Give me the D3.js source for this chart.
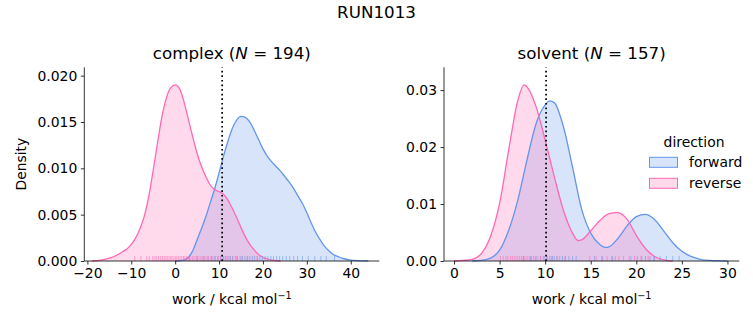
<!DOCTYPE html>
<html><head><meta charset="utf-8">
<script src="https://cdn.jsdelivr.net/npm/d3@7"></script>
<style>body{margin:0;background:#fff}text{font-family:"DejaVu Sans",sans-serif;fill:#000}</style>
</head><body><svg id="c" width="753" height="325"></svg>
<script>
// ---- data ----
const suptitle = "RUN1013";
const panels = ["complex", "solvent"];
const panelN = [194, 157];
const directions = ["forward", "reverse"];
const colors = ["#6495ED", "#FF69B4"];
const thresholds = [10.7, 10.1];

const complexXTicks = [-20, -10, 0, 10, 20, 30, 40];
const complexYTicks = [0, 0.005, 0.010, 0.015, 0.020];
const solventXTicks = [0, 5, 10, 15, 20, 25, 30];
const solventYTicks = [0, 0.01, 0.02, 0.03];

// KDE curves [work, density]
const complexForward = [[0,0],[2,0.0001],[3,0.0004],[4,0.0011],[5,0.0023],[6,0.0035],[7,0.0048],[8,0.0063],[9,0.0078],[10,0.0095],[11,0.0113],[12,0.0129],[13,0.0143],[14,0.0152],[15,0.0156],[16,0.0155],[17,0.0150],[18,0.0141],[19,0.0131],[20,0.0121],[21,0.0113],[22,0.0107],[23,0.0102],[24,0.0097],[25,0.0091],[26,0.0085],[27,0.0078],[28,0.0070],[29,0.0062],[30,0.0052],[31,0.0041],[32,0.0031],[33,0.0023],[34,0.0016],[35,0.0011],[36,0.0007],[37,0.0005],[38,0.0003],[40,0.0001],[44,0]];
const complexReverse = [[-19,0],[-17,0.0001],[-15,0.0003],[-13,0.0007],[-12,0.0010],[-11,0.0013],[-10,0.0018],[-9,0.0025],[-8,0.0035],[-7,0.0049],[-6,0.0070],[-5,0.0098],[-4,0.0128],[-3,0.0156],[-2,0.0176],[-1,0.0187],[0,0.0190],[1,0.0186],[2,0.0172],[3,0.0153],[4,0.0134],[5,0.0116],[6,0.0102],[7,0.0091],[8,0.0082],[9,0.0077],[10,0.0075],[11,0.0072],[12,0.0066],[13,0.0057],[14,0.0047],[15,0.0036],[16,0.0026],[17,0.0018],[18,0.0012],[19,0.0007],[20,0.0004],[22,0.0001],[24,0]];
const solventForward = [[2,0],[3,0.0001],[4,0.0005],[5,0.0019],[6,0.0054],[7,0.0107],[8,0.0177],[9,0.0241],[10,0.0274],[10.5,0.0281],[11,0.0278],[12,0.0236],[13,0.0165],[14,0.0091],[15,0.0049],[16,0.0029],[16.6,0.0024],[17,0.0025],[18,0.0040],[19,0.0062],[20,0.0078],[21,0.0082],[22,0.0073],[23,0.0053],[24,0.0032],[25,0.0017],[26,0.0008],[27,0.0003],[28,0.0001],[30,0]];
const solventReverse = [[0,0],[1,0.0001],[2,0.0003],[3,0.0013],[4,0.0043],[5,0.0101],[6,0.0195],[7,0.0282],[7.7,0.0309],[8,0.0306],[9,0.0271],[10,0.0212],[11,0.0148],[12,0.0089],[13,0.0049],[13.6,0.0036],[14,0.0037],[15,0.0053],[16,0.0071],[17,0.0083],[18,0.0085],[19,0.0073],[20,0.0045],[21,0.0022],[22,0.0008],[23,0.0002],[24,0]];

// rug (individual work values)
const complexForwardRug = [3.2,5.0,6.4,7.5,8.3,9.0,9.7,10.3,10.9,11.4,12.0,12.6,13.1,13.7,14.2,14.8,15.3,15.9,16.4,17.0,17.6,18.1,18.7,19.3,19.9,20.5,21.1,21.8,22.4,23.1,23.8,24.5,25.3,26.1,27.0,27.9,29.0,30.3,31.8,33.2,34.4,36.3];
const complexReverseRug = [-9.2,-7.8,-6.5,-5.9,-5.1,-4.6,-4.2,-3.8,-3.3,-2.9,-2.5,-2.1,-1.8,-1.4,-1.0,-0.7,-0.3,0.1,0.4,0.8,1.1,1.5,1.9,2.2,2.6,3.0,3.4,3.9,4.3,4.8,5.2,5.7,6.1,6.6,7.0,7.5,8.1,8.6,9.2,9.8,10.4,11.0,11.6,12.3,13.1,14.0,15.2,16.5,18.7];
const solventForwardRug = [7.6,8.4,9.0,9.5,9.9,10.2,10.5,10.8,11.0,11.3,11.6,11.9,12.2,12.6,13.0,13.4,15.4,16.3,17.4,19.4,20.1,20.6,21.0,21.5,22.0,22.6,23.3,24.0,24.7];
const solventReverseRug = [5.1,5.4,5.7,5.9,6.2,6.4,6.6,6.8,7.0,7.2,7.4,7.6,7.7,7.9,8.1,8.3,8.5,8.7,8.9,9.2,9.5,9.8,10.2,10.7,11.3,12.2,14.9,15.6,16.2,16.8,17.3,17.7,18.1,18.6,19.2,19.8,20.5,21.3,21.9];

// ---- drawing ----
const svg = d3.select("#c");
const fs = 13.9, tfs = 16.7;

svg.append("text").attr("x", 376.5).attr("y", 17.5).attr("text-anchor", "middle")
  .style("font-size", tfs + "px").text(suptitle);

const cfg = [
  {x0:84.3, x1:379.3, xd:[-20.7,46.5], yd:[0,0.0209], xt:complexXTicks, yt:complexYTicks, yf:d3.format(".3f"),
   curves:[complexForward, complexReverse], rugs:[complexForwardRug, complexReverseRug]},
  {x0:444, x1:739.3, xd:[-1.1,31.3], yd:[0,0.034], xt:solventXTicks, yt:solventYTicks, yf:d3.format(".2f"),
   curves:[solventForward, solventReverse], rugs:[solventForwardRug, solventReverseRug]}
];
const yTop = 67.3, yBot = 261;
const fmtX = d => d < 0 ? "\u2212" + Math.abs(d) : String(d);

cfg.forEach((c, i) => {
  const x = d3.scaleLinear().domain(c.xd).range([c.x0, c.x1]);
  const y = d3.scaleLinear().domain(c.yd).range([yBot, yTop]);
  const g = svg.append("g");

  // fills
  c.curves.forEach((pts, k) => {
    const area = d3.area().x(d => x(d[0])).y0(y(0)).y1(d => y(d[1])).curve(d3.curveMonotoneX);
    g.append("path").attr("d", area(pts)).attr("fill", colors[k]).attr("fill-opacity", 0.25).attr("stroke", "none");
  });
  c.curves.forEach((pts, k) => {
    const line = d3.line().x(d => x(d[0])).y(d => y(d[1])).curve(d3.curveMonotoneX);
    g.append("path").attr("d", line(pts)).attr("fill", "none").attr("stroke", colors[k]).attr("stroke-width", 1.3);
  });
  // rugs
  c.rugs.forEach((vals, k) => {
    g.selectAll(null).data(vals).enter().append("line")
      .attr("x1", d => x(d)).attr("x2", d => x(d))
      .attr("y1", yBot).attr("y2", yBot - 5)
      .attr("stroke", colors[k]).attr("stroke-opacity", 0.55).attr("stroke-width", 1);
  });
  // threshold
  g.append("line").attr("x1", x(thresholds[i])).attr("x2", x(thresholds[i]))
    .attr("y1", yBot).attr("y2", yTop).attr("stroke", "#000").attr("stroke-width", 1.7)
    .attr("stroke-dasharray", "1.7,2.9");

  // axes
  const xa = g.append("g").attr("transform", `translate(0,${yBot})`)
    .call(d3.axisBottom(x).tickValues(c.xt).tickFormat(fmtX).tickSize(3.5).tickPadding(3.5));
  xa.select(".domain").attr("d", `M${c.x0},0H${c.x1}`);
  const ya = g.append("g").attr("transform", `translate(${c.x0},0)`)
    .call(d3.axisLeft(y).tickValues(c.yt).tickFormat(c.yf).tickSize(3.5).tickPadding(3.5));
  ya.select(".domain").attr("d", `M0,${yBot}V${yTop}`);
  [xa, ya].forEach(a => {
    a.selectAll("path,line").attr("stroke", "#000").attr("stroke-width", 0.8);
    a.selectAll("text").style("font-size", fs + "px").attr("font-family", "DejaVu Sans").attr("fill", "#000");
  });
  xa.selectAll("text").attr("dy", "0.72em");

  // titles
  const cx = (c.x0 + c.x1) / 2;
  const t = svg.append("text").attr("x", cx).attr("y", 59).attr("text-anchor", "middle").style("font-size", tfs + "px");
  t.append("tspan").text(panels[i] + " (");
  t.append("tspan").style("font-style", "italic").text("N");
  t.append("tspan").text(" = " + panelN[i] + ")");

  const xl = svg.append("text").attr("x", cx).attr("y", 303.5).attr("text-anchor", "middle").style("font-size", fs + "px");
  xl.append("tspan").text("work / kcal mol");
  xl.append("tspan").attr("dy", -5).style("font-size", "9.7px").text("\u22121");
});

svg.append("text").attr("transform", `translate(26,${(yTop + yBot) / 2}) rotate(-90)`)
  .attr("text-anchor", "middle").style("font-size", fs + "px").text("Density");

// legend
const lg = svg.append("g");
lg.append("text").attr("x", 694).attr("y", 146.5).attr("text-anchor", "middle").style("font-size", fs + "px").text("direction");
directions.forEach((d, k) => {
  const yy = 157.3 + k * 21;
  lg.append("rect").attr("x", 649.5).attr("y", yy).attr("width", 28).attr("height", 10)
    .attr("fill", colors[k]).attr("fill-opacity", 0.25).attr("stroke", colors[k]).attr("stroke-width", 1);
  lg.append("text").attr("x", 689).attr("y", yy + 10).style("font-size", fs + "px").text(d);
});
</script></body></html>
